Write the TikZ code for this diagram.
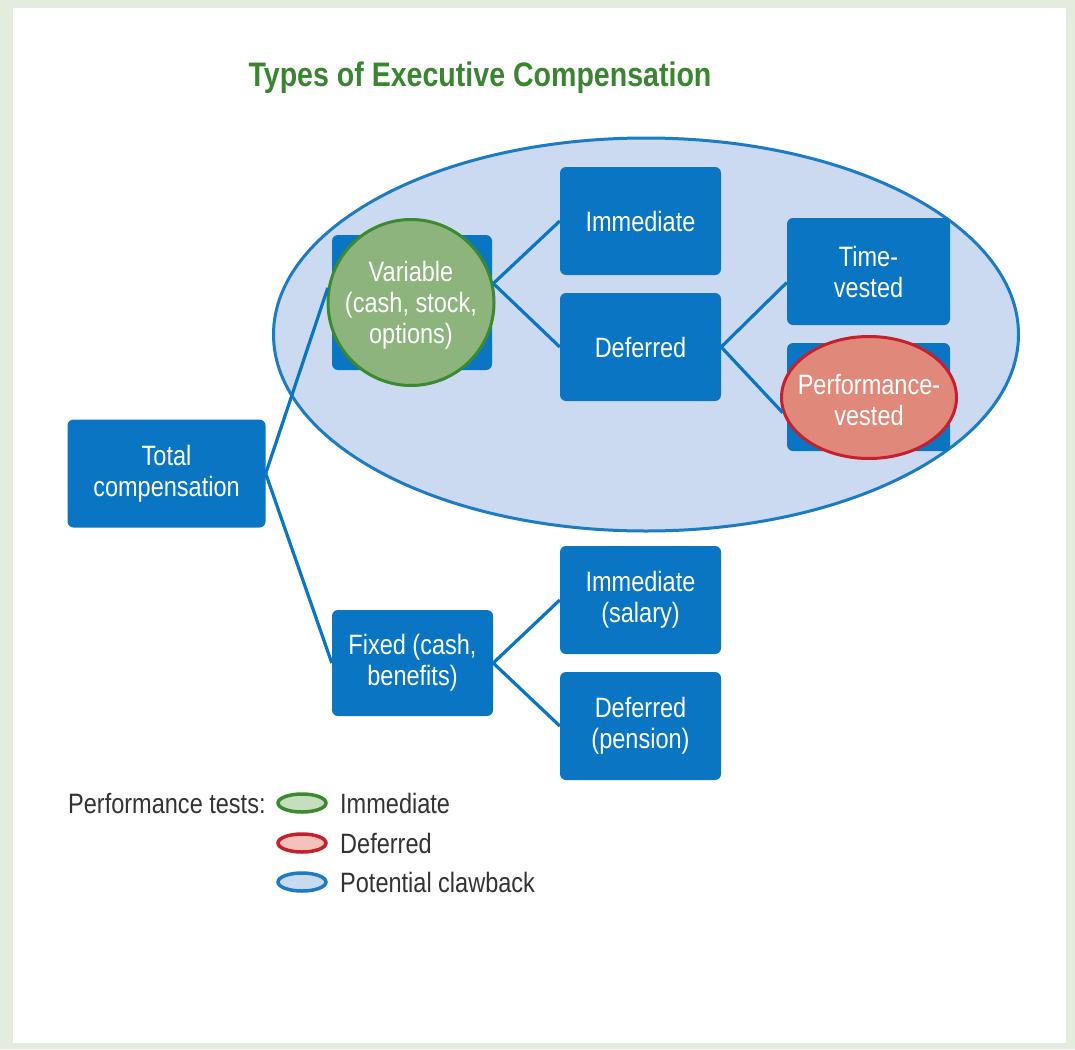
\documentclass[tikz,border=0pt]{standalone}
\usepackage{fontspec}
\setmainfont{Liberation Sans}[FakeStretch=0.84]
\usetikzlibrary{calc,shapes.geometric}
\definecolor{bbox}{HTML}{0A75C2}
\definecolor{clawfill}{HTML}{CBDAF0}
\definecolor{clawline}{HTML}{1B7BC4}
\definecolor{greenfill}{HTML}{8CB47C}
\definecolor{greenline}{HTML}{3B8A2F}
\definecolor{redfill}{HTML}{E0887A}
\definecolor{redline}{HTML}{C4202E}
\definecolor{titlegreen}{HTML}{3A8530}
\definecolor{legtext}{HTML}{333333}
\definecolor{greenlight}{HTML}{C6DDBE}
\definecolor{redlight}{HTML}{F3C3BB}
\definecolor{bluelight}{HTML}{C8DAF0}
\definecolor{framecol}{HTML}{E4ECDD}
\begin{document}
\begin{tikzpicture}[x=1pt,y=-1pt,
  box/.style={fill=bbox, rounded corners=6pt, text=white, minimum width=161pt,
    minimum height=108pt, align=center, font=\fontsize{28}{31}\selectfont, inner sep=0pt},
  link/.style={draw=bbox, line width=3.2pt},
  overlay text/.style={text=white, align=center, font=\fontsize{28}{31}\selectfont, inner sep=0pt},
  legell/.style={ellipse, line width=3.5pt, minimum width=48pt, minimum height=18pt, inner sep=0pt},
  legtxt/.style={anchor=west, text=legtext, font=\fontsize{28}{31}\selectfont, inner sep=0pt}]
% frame
\fill[framecol] (0,0) rectangle (1075,1049);
\fill[white] (13,8) rectangle (1066,1043);
\useasboundingbox (0,0) rectangle (1075,1049);
% title
\node[font=\bfseries\fontsize{34}{38}\selectfont, text=titlegreen] (title) at (480,78) {Types of Executive Compensation};
% clawback ellipse
\node[ellipse, draw=clawline, fill=clawfill, line width=3pt, minimum width=745pt, minimum height=393pt, inner sep=0pt] (claw) at (646,334.5) {};
% boxes
\node[box, minimum width=198pt] (total) at (166.5,473.5) {Total\\compensation};
\node[box, minimum width=160pt, minimum height=135pt] (varbox) at (412,302.5) {};
\node[box] (imm) at (640.5,221) {Immediate};
\node[box] (def) at (640.5,347) {Deferred};
\node[box, minimum width=163pt, minimum height=107pt] (tv) at (868.5,271.5) {Time-\\vested};
\node[box, minimum width=163pt] (pvbox) at (868.5,397) {};
\node[box, minimum height=106pt] (fixed) at (412.5,663) {Fixed (cash,\\benefits)};
\node[box] (isal) at (640.5,600) {Immediate\\(salary)};
\node[box] (dpen) at (640.5,726) {Deferred\\(pension)};
% overlays
\node[circle, fill=greenfill, draw=greenline, line width=3pt, minimum size=166pt, inner sep=0pt] (var) at (411,302.5) {};
\node[overlay text] (vartext) at ($(var.center)+(0,3)$) {Variable\\(cash, stock,\\options)};
\node[ellipse, fill=redfill, draw=redline, line width=3pt, minimum width=175pt, minimum height=122pt, inner sep=0pt] (pv) at (869,397.5) {};
\node[overlay text] (pvtext) at ($(pv.center)+(0,2)$) {Performance-\\vested};
% connectors
\draw[link] (total.east) -- (var.170);
\draw[link] (total.east) -- (fixed.west);
\draw[link] (var.13) -- (imm.west);
\draw[link] (var.13) -- (def.west);
\draw[link] (def.east) -- ($(tv.west)+(0,11)$);
\draw[link] (def.east) -- (pv.190);
\draw[link] (fixed.east) -- (isal.west);
\draw[link] (fixed.east) -- (dpen.west);
% legend
\node[legtxt] (lt) at (68,803) {Performance tests:};
\node[legell, draw=greenline, fill=greenlight] (l1) at (302,803) {};
\node[legtxt] (l1t) at (340,803) {Immediate};
\node[legell, draw=redline, fill=redlight] (l2) at (302,843) {};
\node[legtxt] (l2t) at (340,843) {Deferred};
\node[legell, draw=clawline, fill=bluelight] (l3) at (302,882) {};
\node[legtxt] (l3t) at (340,882) {Potential clawback};
\end{tikzpicture}
\end{document}
